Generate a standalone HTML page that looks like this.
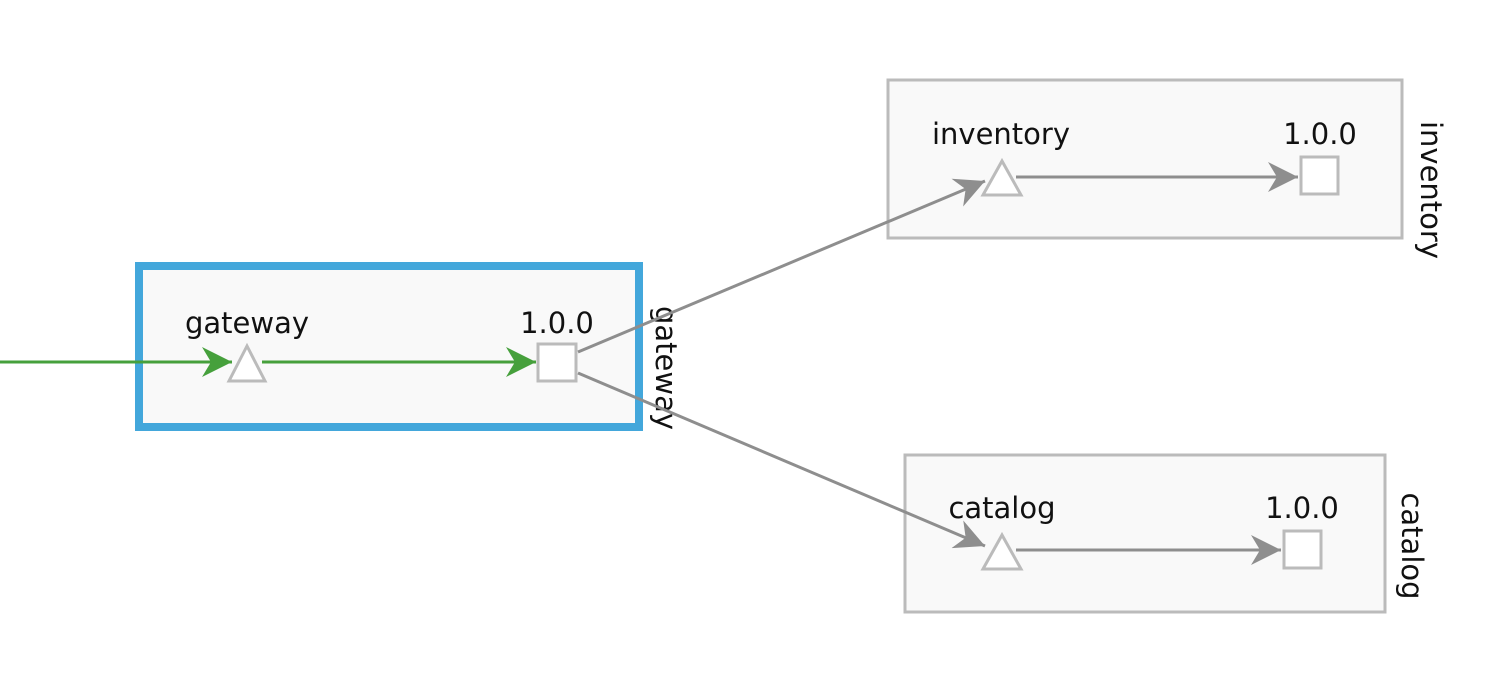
<!DOCTYPE html>
<html><head><meta charset="utf-8"><style>
html,body{margin:0;padding:0;background:#fff;width:1496px;height:693px;overflow:hidden}
text{font-family:"DejaVu Sans","Liberation Sans",sans-serif;font-size:29px;fill:#111}
</style></head><body>
<svg width="1496" height="693" viewBox="0 0 1496 693" xmlns="http://www.w3.org/2000/svg">
<defs>
<marker id="g" viewBox="0 0 10 10" refX="10" refY="5" markerWidth="30" markerHeight="30" markerUnits="userSpaceOnUse" orient="auto"><path d="M0,0 L10,5 L0,10 L3,5 z" fill="#46a03c"/></marker>
<marker id="a" viewBox="0 0 10 10" refX="10" refY="5" markerWidth="30" markerHeight="30" markerUnits="userSpaceOnUse" orient="auto"><path d="M0,0 L10,5 L0,10 L3,5 z" fill="#8e8e8e"/></marker>
</defs>
<rect x="139" y="266" width="500" height="161" fill="#f9f9f9" stroke="#43a7db" stroke-width="8"/>
<text x="247" y="333" text-anchor="middle">gateway</text>
<text x="557" y="333" text-anchor="middle">1.0.0</text>
<text transform="translate(656,368) rotate(90)" text-anchor="middle">gateway</text>
<line x1="0" y1="362" x2="232" y2="362" stroke="#46a03c" stroke-width="3" marker-end="url(#g)"/>
<line x1="262" y1="362" x2="536" y2="362" stroke="#46a03c" stroke-width="3" marker-end="url(#g)"/>
<polygon points="229,381 265,381 247,346" fill="#fff" stroke="#bbb" stroke-width="3"/>
<rect x="538" y="344" width="38" height="37" fill="#fff" stroke="#bbb" stroke-width="3"/>
<rect x="888" y="80" width="514" height="158" fill="#f9f9f9" stroke="#bbb" stroke-width="3"/>
<text x="1001" y="144" text-anchor="middle">inventory</text>
<text x="1320" y="144" text-anchor="middle">1.0.0</text>
<text transform="translate(1421,190) rotate(90)" text-anchor="middle">inventory</text>
<line x1="1016" y1="177" x2="1298" y2="177" stroke="#8e8e8e" stroke-width="3" marker-end="url(#a)"/>
<polygon points="983,195 1021,195 1002,161" fill="#fff" stroke="#bbb" stroke-width="3"/>
<rect x="1301" y="157" width="37" height="37" fill="#fff" stroke="#bbb" stroke-width="3"/>
<rect x="905" y="455" width="480" height="157" fill="#f9f9f9" stroke="#bbb" stroke-width="3"/>
<text x="1002" y="518" text-anchor="middle">catalog</text>
<text x="1302" y="518" text-anchor="middle">1.0.0</text>
<text transform="translate(1402,546) rotate(90)" text-anchor="middle">catalog</text>
<line x1="1016" y1="550" x2="1281" y2="550" stroke="#8e8e8e" stroke-width="3" marker-end="url(#a)"/>
<polygon points="983,569 1021,569 1002,535" fill="#fff" stroke="#bbb" stroke-width="3"/>
<rect x="1284" y="531" width="37" height="37" fill="#fff" stroke="#bbb" stroke-width="3"/>
<line x1="578" y1="352" x2="985" y2="181" stroke="#8e8e8e" stroke-width="3" marker-end="url(#a)"/>
<line x1="578" y1="373" x2="985" y2="546" stroke="#8e8e8e" stroke-width="3" marker-end="url(#a)"/>
</svg>
</body></html>
